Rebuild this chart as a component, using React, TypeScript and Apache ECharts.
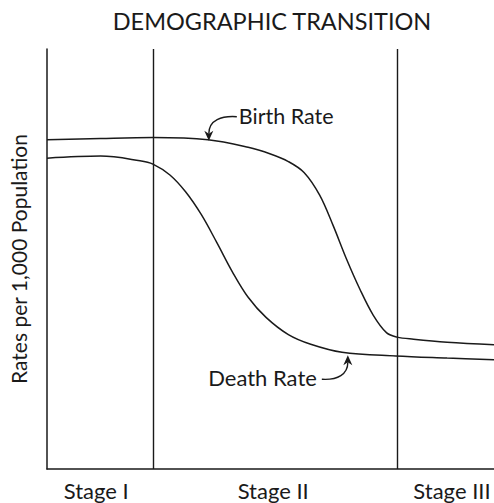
import React, { useEffect, useRef } from "react";
import * as echarts from "echarts";

const FONT = "Lato";
const TITLE = "DEMOGRAPHIC TRANSITION";
const Y_NAME = "Rates per 1,000 Population";

// x: time (0..100), y: rate per 1,000 (0..50)
const birthX = [0, 12, 23.7, 36, 45, 50, 54, 57.5, 61, 64, 67, 70, 73, 76, 78.3, 82, 89.5, 100];
const birthY = [39.2, 39.35, 39.45, 39.2, 38.3, 37.5, 36.6, 35.3, 32.6, 29.0, 25.0, 21.4, 18.3, 16.2, 15.7, 15.45, 15.1, 14.8];

const deathX = [0, 12, 20.8, 23.7, 27.5, 31, 34.5, 38, 41.5, 45, 49, 54, 59, 66, 78, 89.5, 100];
const deathY = [37.0, 37.25, 36.7, 36.3, 35.0, 33.0, 30.3, 26.95, 23.45, 20.45, 18.05, 16.0, 14.85, 13.9, 13.45, 13.2, 13.0];

const stageBoundaries = [23.7, 78.3];
const stageNames = ["Stage I", "Stage II", "Stage III"];
const stageLabelX = [11.0, 50.6, 90.6];

const birthLabel = "Birth Rate";
const deathLabel = "Death Rate";
const birthArrowAt = [36.2, 39.2];
const deathArrowAt = [67.3, 13.9];

const INK = "#1a1a1a";

export default function App() {
  const ref = useRef<HTMLDivElement>(null);
  useEffect(() => {
    if (!ref.current) return;
    const chart = echarts.init(ref.current, null, { renderer: "svg" });
    const zip = (xs: number[], ys: number[]) => xs.map((x, i) => [x, ys[i]]);
    chart.setOption({
      animation: false,
      backgroundColor: "#fff",
      grid: { left: 47, right: 0, top: 49, bottom: 34 },
      xAxis: {
        type: "value",
        min: 0,
        max: 100,
        axisLine: { show: true, lineStyle: { color: INK, width: 1.5 } },
        axisTick: { show: false },
        splitLine: { show: false },
        axisLabel: {
          customValues: stageLabelX,
          margin: 10,
          color: INK,
          fontFamily: FONT,
          fontSize: 22,
          formatter: (v: number) => {
            const i = stageLabelX.findIndex((s) => Math.abs(s - v) < 0.01);
            return i >= 0 ? stageNames[i] : "";
          },
        },
      },
      yAxis: {
        type: "value",
        min: 0,
        max: 50,
        name: Y_NAME,
        nameLocation: "middle",
        nameRotate: 90,
        nameGap: 18,
        nameTextStyle: { color: INK, fontFamily: FONT, fontSize: 21 },
        axisLine: { show: true, lineStyle: { color: INK, width: 1.5 } },
        axisTick: { show: false },
        axisLabel: { show: false },
        splitLine: { show: false },
      },
      series: [
        {
          type: "line",
          data: zip(birthX, birthY),
          smooth: 0.35,
          showSymbol: false,
          lineStyle: { color: INK, width: 1.5 },
          markLine: {
            silent: true,
            symbol: "none",
            label: { show: false },
            lineStyle: { color: INK, width: 1.4, type: "solid" },
            data: stageBoundaries.map((x) => ({ xAxis: x })),
          },
        },
        {
          type: "line",
          data: zip(deathX, deathY),
          smooth: 0.35,
          showSymbol: false,
          lineStyle: { color: INK, width: 1.5 },
        },
      ],
    });

    const b = chart.convertToPixel({ gridIndex: 0 }, birthArrowAt) as number[];
    const d = chart.convertToPixel({ gridIndex: 0 }, deathArrowAt) as number[];
    const bt = [b[0], b[1] + 1];
    const dt = [d[0], d[1] + 3];
    chart.setOption({
      graphic: [
        {
          type: "text",
          x: 272,
          y: 21,
          style: { text: TITLE, fill: INK, font: `23.5px ${FONT}`, align: "center", verticalAlign: "middle" },
        },
        {
          type: "bezierCurve",
          x: bt[0],
          y: bt[1],
          shape: { x1: 28, y1: -24, cpx1: 13, cpy1: -25, cpx2: 0, cpy2: -21, x2: 0, y2: -7 },
          style: { stroke: INK, lineWidth: 1.4, fill: "none" },
        },
        {
          type: "polygon",
          x: bt[0],
          y: bt[1],
          shape: { points: [[0, 0], [-4.5, -10], [0, -7], [4.5, -10]] },
          style: { fill: INK },
        },
        {
          type: "text",
          x: bt[0] + 30,
          y: bt[1] - 25,
          style: { text: birthLabel, fill: INK, font: `21.5px ${FONT}`, align: "left", verticalAlign: "middle" },
        },
        {
          type: "bezierCurve",
          x: dt[0],
          y: dt[1],
          shape: { x1: -26, y1: 24, cpx1: -10, cpy1: 25, cpx2: 0, cpy2: 19, x2: 0, y2: 7 },
          style: { stroke: INK, lineWidth: 1.4, fill: "none" },
        },
        {
          type: "polygon",
          x: dt[0],
          y: dt[1],
          shape: { points: [[0, 0], [-4.5, 10], [0, 7], [4.5, 10]] },
          style: { fill: INK },
        },
        {
          type: "text",
          x: dt[0] - 31,
          y: dt[1] + 22,
          style: { text: deathLabel, fill: INK, font: `22px ${FONT}`, align: "right", verticalAlign: "middle" },
        },
      ],
    });
    return () => chart.dispose();
  }, []);
  return (
    <div
      ref={ref}
      style={{ position: "fixed", left: 0, top: 0, width: 494, height: 503, background: "#fff" }}
    />
  );
}
